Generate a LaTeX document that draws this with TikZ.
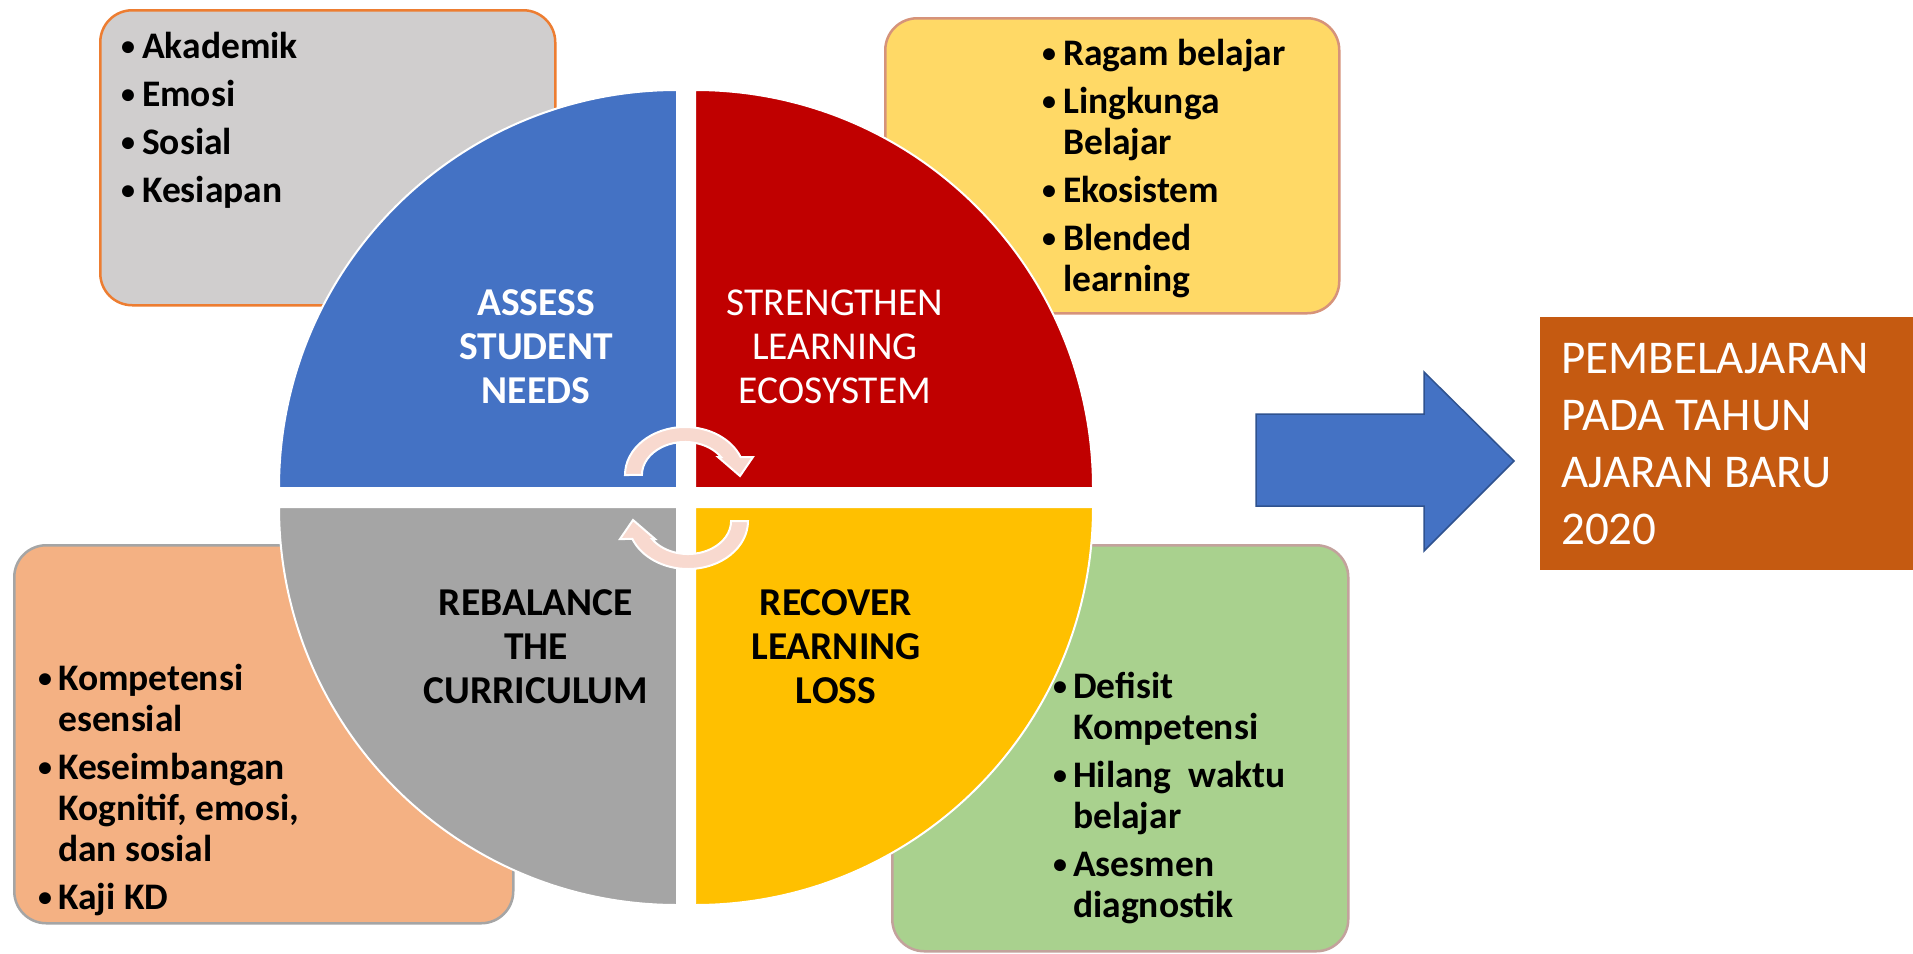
\documentclass[tikz,border=0pt]{standalone}
\usepackage{fontspec}
\setmainfont{Carlito}
\usepackage{tikz}

\definecolor{qblue}{HTML}{4472C4}
\definecolor{qred}{HTML}{C00000}
\definecolor{qgray}{HTML}{A5A5A5}
\definecolor{qgold}{HTML}{FFC000}
\definecolor{needfill}{HTML}{D0CECE}
\definecolor{needline}{HTML}{ED7D31}
\definecolor{ecofill}{HTML}{FFD966}
\definecolor{ecoline}{HTML}{D6937A}
\definecolor{curfill}{HTML}{F4B183}
\definecolor{curline}{HTML}{A5A5A5}
\definecolor{lossfill}{HTML}{A9D18E}
\definecolor{lossline}{HTML}{C3A29C}
\definecolor{goalfill}{HTML}{C55A11}
\definecolor{arrowline}{HTML}{2F528F}
\definecolor{cycpink}{HTML}{F8D9CF}

\newlength{\bulgap}
\setlength{\bulgap}{21pt}
\newcommand{\bul}[1]{\parskip=7pt\noindent\hangindent=\bulgap\hangafter=1%
    \makebox[\bulgap][l]{\raisebox{3pt}{\fontsize{28}{28}\selectfont\textbullet}}#1\par}

\begin{document}
\begin{tikzpicture}[x=1pt,y=-1pt,
    infobox/.style={rounded corners=32pt,line width=2.5pt,anchor=north west,inner sep=0pt},
    listtext/.style={anchor=base west,inner sep=0pt,text width=400pt,align=flush left,
        font=\bfseries\fontsize{37.5}{41}\selectfont,execute at begin node={\setlength{\bulgap}{#1}}},
    quadlabel/.style={anchor=base,inner sep=0pt,text width=320pt,align=center,font=\fontsize{39.5}{44}\selectfont},
    quadbold/.style={quadlabel,font=\bfseries\fontsize{39.5}{44}\selectfont},
    quarter/.style={draw=white,line width=2pt},
    cyc/.style={fill=cycpink,draw=white,line width=2pt}]
    \fill[white] (0,0) rectangle (1913,953);
    \useasboundingbox (0,0) rectangle (1913,953);

    \node[infobox,fill=needfill,draw=needline,minimum width=455,minimum height=295] (needs) at (99,9) {};
    \node[infobox,fill=ecofill,draw=ecoline,minimum width=454,minimum height=295] (eco) at (884,17) {};
    \node[infobox,fill=curfill,draw=curline,minimum width=499,minimum height=378] (cur) at (13,544) {};
    \node[infobox,fill=lossfill,draw=lossline,minimum width=456,minimum height=406] (loss) at (891,544) {};

    \path[quarter,fill=qblue] (677,488) -- (279,488) arc[start angle=180,end angle=270,radius=398] -- cycle;
    \path[quarter,fill=qred] (695,488) -- (695,90) arc[start angle=270,end angle=360,radius=398] -- cycle;
    \path[quarter,fill=qgray] (677,507) -- (677,905) arc[start angle=90,end angle=180,radius=398] -- cycle;
    \path[quarter,fill=qgold] (695,507) -- (1093,507) arc[start angle=0,end angle=90,radius=398] -- cycle;

    \node[listtext=21pt] (needslist) at (121,58) {\bul{Akademik}\bul{Emosi}\bul{Sosial}\bul{Kesiapan}};
    \node[listtext=21pt] (ecolist) at (1042,65) {\bul{Ragam belajar}\bul{Lingkunga\newline Belajar}\bul{Ekosistem}\bul{Blended\newline learning}};
    \node[listtext=20pt] (curlist) at (38,690) {\bul{Kompetensi\newline esensial}\bul{Keseimbangan\newline Kognitif, emosi,\newline dan sosial}\bul{Kaji KD}};
    \node[listtext=20pt] (losslist) at (1053,698) {\bul{Defisit\newline Kompetensi}\bul{Hilang\ \ waktu\newline belajar}\bul{Asesmen\newline diagnostik}};

    \node[quadbold,text=white] (assess) at (536,315) {ASSESS\\STUDENT\\NEEDS};
    \node[quadlabel,text=white] (strengthen) at (835,315) {STRENGTHEN\\LEARNING\\ECOSYSTEM};
    \node[quadbold,text=black] (rebalance) at (536,615) {REBALANCE\\THE\\CURRICULUM};
    \node[quadbold,text=black] (recover) at (836,615) {RECOVER\\LEARNING\\LOSS};

    \foreach \turn in {0,180}
        \path[cyc,rotate around={\turn:(686.5,498)}] (625,475) arc[start angle=180,end angle=338,x radius=60,y radius=48]
            -- (753,457) -- (740,476) -- (718,457) -- (721,457)
            arc[start angle=327,end angle=180,x radius=43,y radius=33] -- cycle;

    \path[fill=qblue,draw=arrowline,line width=1.5pt] (1256,414) -- (1424,414) -- (1424,372) -- (1514,461)
        -- (1424,551) -- (1424,506) -- (1256,506) -- cycle;

    \node[fill=goalfill,anchor=north west,minimum width=373,minimum height=253,inner sep=0pt] (goal) at (1540,317) {};
    \node[anchor=base west,inner sep=0pt,text width=360pt,align=flush left,text=white,font=\fontsize{47}{57}\selectfont] (goaltext) at (1561,373) {PEMBELAJARAN\\PADA TAHUN\\AJARAN BARU\\2020};
\end{tikzpicture}
\end{document}
